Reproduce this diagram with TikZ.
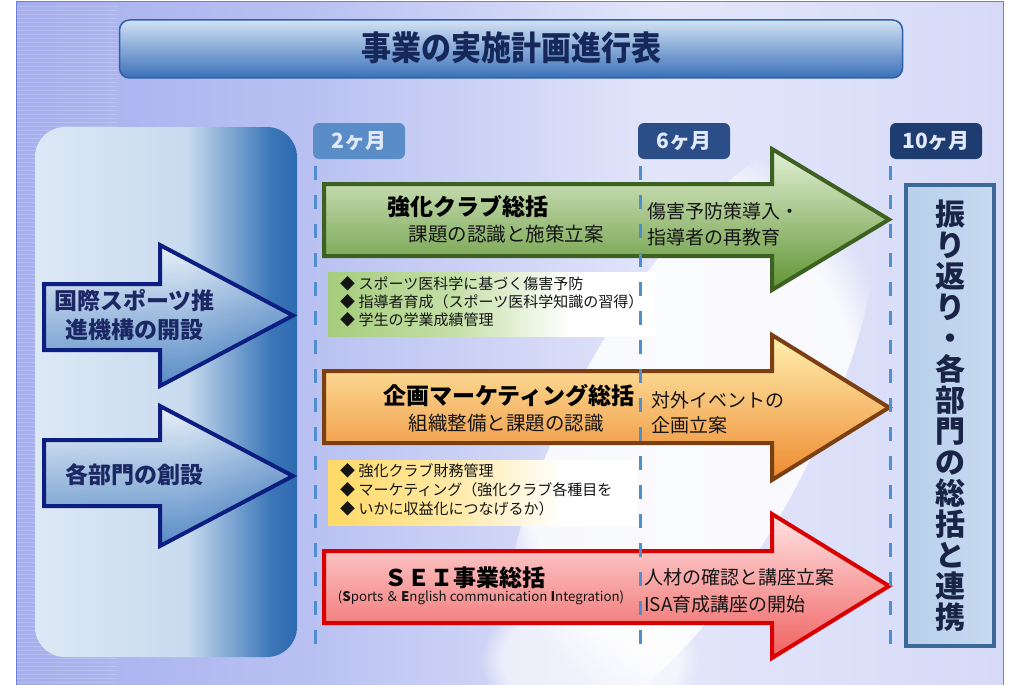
\documentclass[tikz,border=0pt]{standalone}
\usepackage{fontspec}
\setmainfont{Noto Sans CJK JP}
\usetikzlibrary{fadings}
\definecolor{bgA}{HTML}{A6AFEE}
\definecolor{bgB}{HTML}{B9C1F2}
\definecolor{bgC}{HTML}{E3E6FA}
\definecolor{bgD}{HTML}{D6DAF7}
\definecolor{bgline}{HTML}{6E7DD7}
\definecolor{pA}{HTML}{DDE8F5}
\definecolor{pB}{HTML}{C8DBEF}
\definecolor{pC}{HTML}{3B77B8}
\definecolor{pD}{HTML}{2E6AAE}
\definecolor{gA}{HTML}{A5CD7C}
\definecolor{gB}{HTML}{C6E0A9}
\definecolor{yA}{HTML}{FFD966}
\definecolor{yB}{HTML}{FFE9A6}
\definecolor{navy}{HTML}{16285A}
\definecolor{gborder}{HTML}{3C6121}
\definecolor{oborder}{HTML}{7B3F12}
\definecolor{rborder}{HTML}{D80000}
\definecolor{bborder}{HTML}{0C1E80}
\definecolor{dashc}{HTML}{4F8FD0}
\definecolor{gtop}{HTML}{E4F1D6}
\definecolor{gbot}{HTML}{5F9433}
\definecolor{otop}{HTML}{FFF0B0}
\definecolor{obot}{HTML}{EE8A30}
\definecolor{rtop}{HTML}{FFE4E4}
\definecolor{rbot}{HTML}{F06060}
\definecolor{btop}{HTML}{F2F6FC}
\definecolor{bbot}{HTML}{3070B8}
\definecolor{mtext}{HTML}{E1E9FA}
\definecolor{m2c}{HTML}{5A8CC8}
\definecolor{m6c}{HTML}{2C4E88}
\definecolor{m10c}{HTML}{1F3C70}
\definecolor{txt}{HTML}{141414}
\definecolor{lefttxt}{HTML}{1C2864}
\definecolor{tborder}{HTML}{3060A8}
\definecolor{ttop}{HTML}{D2E2F4}
\definecolor{tbot}{HTML}{3A70B8}
\definecolor{rbborder}{HTML}{3C6996}
\definecolor{rbL}{HTML}{B8D0EA}
\definecolor{rbR}{HTML}{C6DAF0}
\definecolor{rbtxt}{HTML}{1A2446}
\pgfdeclarehorizontalshading{bgsh}{100bp}{color(0bp)=(bgA); color(25bp)=(bgA); color(40bp)=(bgB); color(58bp)=(bgC); color(75bp)=(bgD); color(100bp)=(bgD)}
\pgfdeclarehorizontalshading{panelsh}{100bp}{color(0bp)=(pA); color(25bp)=(pA); color(54bp)=(pB); color(70bp)=(pC); color(75bp)=(pD); color(100bp)=(pD)}
\pgfdeclarehorizontalshading{greensh}{100bp}{color(0bp)=(gA); color(25bp)=(gA); color(45bp)=(gB); color(62bp)=(white); color(100bp)=(white)}
\pgfdeclarehorizontalshading{yellowsh}{100bp}{color(0bp)=(yA); color(25bp)=(yA); color(45bp)=(yB); color(63bp)=(white); color(100bp)=(white)}
\newcommand\myarrow[8]{%
  \draw[#1] (#2,#3) -- (#5,#3) -- (#5,#6) -- (#8,{(#6+#7)/2}) -- (#5,#7) -- (#5,#4) -- (#2,#4) -- cycle;}
\tikzset{
  garrow/.style={draw=gborder, line width=4pt, top color=gtop, bottom color=gbot},
  oarrow/.style={draw=oborder, line width=4pt, top color=otop, bottom color=obot},
  rarrow/.style={draw=rborder, line width=4pt, top color=rtop, bottom color=rbot},
  barrow/.style={draw=bborder, line width=4pt, top color=btop, bottom color=bbot, fill opacity=0.75},
  monthbox/.style={rounded corners=6pt, minimum width=92pt, minimum height=36pt, text=mtext, font=\bfseries\fontsize{21}{23}\selectfont, inner sep=0pt},
  head/.style={font=\bfseries\fontsize{23}{26}\selectfont, text=black, inner sep=0pt},
  sub/.style={font=\fontsize{19.5}{22}\selectfont, text=txt, inner sep=0pt},
  side/.style={font=\fontsize{19}{22}\selectfont, text=txt, inner sep=0pt, anchor=west},
  bullet/.style={font=\fontsize{15}{17}\selectfont, text=txt, inner sep=0pt, anchor=west},
  lefttext/.style={font=\bfseries\fontsize{23}{26}\selectfont, text=lefttxt, inner sep=0pt, anchor=west},
  dashline/.style={draw=dashc, line width=3pt, dash pattern=on 14pt off 15pt},
}
\begin{document}
\begin{tikzpicture}[x=1pt,y=-1pt]
\useasboundingbox (0,0) rectangle (1013,685);
\fill[white] (0,0) rectangle (1013,685);
% background
\shade[shading=bgsh] (16,2) rectangle (1003,685);
\fill[white, opacity=0.85, path fading=circle with fuzzy edge 20 percent, rotate around={-28:(690,430)}] (690,430) ellipse [x radius=120pt, y radius=330pt];
\fill[white, opacity=0.6, path fading=circle with fuzzy edge 20 percent] (590,660) ellipse [x radius=110pt, y radius=70pt];
\foreach \yy in {6,10,...,682} {\draw[white, opacity=0.18, line width=0.5pt] (16,\yy) -- (118,\yy);}
\draw[bgline, line width=1pt] (16,685) -- (16,2) -- (1003,2) -- (1003,685);
% title
\node[rounded corners=10pt, minimum width=783pt, minimum height=58pt, draw=tborder, line width=1.5pt, top color=ttop, bottom color=tbot, inner sep=0pt] (title) at (511,49) {};
\node[text=navy, font=\bfseries\fontsize{30}{32}\selectfont, yscale=1.12, inner sep=0pt] (titletext) at (511,48) {事業の実施計画進行表};
% left panel
\shade[shading=panelsh, rounded corners=30pt] (35,127) rectangle (297,657);
\myarrow{barrow}{44}{284}{350}{160}{245}{386}{293}
\myarrow{barrow}{44}{440}{506}{160}{406}{546}{293}
\node[lefttext] (l1) at (54,301) {国際スポーツ推};
\node[lefttext] (l2) at (65,330) {進機構の開設};
\node[lefttext] (l3) at (65,475) {各部門の創設};
% month boxes
\node[monthbox, fill=m2c] (m2) at (359,141) {2ヶ月};
\node[monthbox, fill=m6c] (m6) at (684,141) {6ヶ月};
\node[monthbox, fill=m10c] (m10) at (936,141) {10ヶ月};
% arrows
\myarrow{garrow}{324}{184}{256}{772}{149}{290}{889}
\myarrow{oarrow}{324}{371}{443}{772}{335}{480}{889}
\myarrow{rarrow}{324}{551}{623}{772}{514}{658}{889}
% bullet boxes
\shade[shading=greensh] (328,272) rectangle (655,336);
\shade[shading=yellowsh] (328,460) rectangle (638,525);
% dashed lines
\coordinate (d1t) at (315,166); \coordinate (d1b) at (315,645);
\coordinate (d2t) at (640,166); \coordinate (d2b) at (640,645);
\coordinate (d3t) at (890,166); \coordinate (d3b) at (890,645);
\draw[dashline] (d1t) -- (d1b);
\draw[dashline] (d2t) -- (d2b);
\draw[dashline] (d3t) -- (d3b);
% green texts
\node[head] (g1) at (468,207) {強化クラブ総括};
\node[sub] (g2) at (506,234) {課題の認識と施策立案};
\node[side] (g3) at (647,211) {傷害予防策導入・};
\node[side] (g4) at (647,237) {指導者の再教育};
\node[bullet] (gb1) at (340,284) {◆ スポーツ医科学に基づく傷害予防};
\node[bullet] (gb2) at (340,302) {◆ 指導者育成（スポーツ医科学知識の習得）};
\node[bullet] (gb3) at (340,320) {◆ 学生の学業成績管理};
% orange texts
\node[head] (o1) at (509,396) {企画マーケティング総括};
\node[sub] (o2) at (506,423) {組織整備と課題の認識};
\node[side] (o3) at (651,400) {対外イベントの};
\node[side] (o4) at (651,425) {企画立案};
\node[bullet] (ob1) at (340,471) {◆ 強化クラブ財務管理};
\node[bullet] (ob2) at (340,490) {◆ マーケティング（強化クラブ各種目を};
\node[bullet] (ob3) at (340,509) {◆ いかに収益化につなげるか）};
% red texts
\node[head] (r1) at (465,578) {ＳＥＩ事業総括};
\node[font=\fontsize{13.3}{15}\selectfont, inner sep=0pt, text=txt] (r2) at (481,598) {(\textbf{S}ports\,＆\,\textbf{E}nglish communication \textbf{I}ntegration)};
\node[side] (r3) at (644,577) {人材の確認と講座立案};
\node[side] (r4) at (644,604) {ISA育成講座の開始};
% right box
\node[draw=rbborder, line width=4pt, minimum width=88pt, minimum height=461pt, left color=rbL, right color=rbR, inner sep=0pt] (rb) at (950,415.5) {};
\node[font=\bfseries\fontsize{30}{31}\selectfont, text=rbtxt, align=center, inner sep=0pt] (rt) at (950,416) {振\\り\\返\\り\\・\\各\\部\\門\\の\\総\\括\\と\\連\\携};
\end{tikzpicture}
\end{document}
